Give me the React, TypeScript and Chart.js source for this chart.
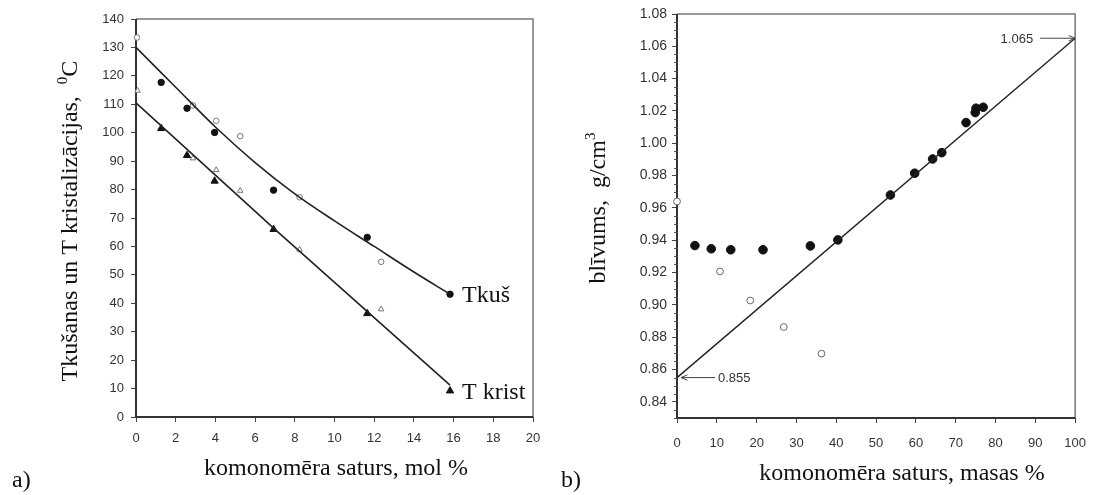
import React, { useEffect, useRef } from "react";
import { Chart, registerables } from "chart.js";
Chart.register(...registerables);

const SERIF = '"Liberation Serif", "Times New Roman", serif';
const SANS = '"Liberation Sans", Arial, sans-serif';

// ---------- Chart a) data ----------
const leftXTicks = [0, 2, 4, 6, 8, 10, 12, 14, 16, 18, 20];
const leftYTicks = [0, 10, 20, 30, 40, 50, 60, 70, 80, 90, 100, 110, 120, 130, 140];

const tmFillX = [1.27, 2.57, 3.96, 6.93, 11.65, 15.82];
const tmFillY = [117.7, 108.6, 100.1, 79.8, 63.2, 43.2];
const tmOpenX = [0.05, 2.87, 4.04, 5.25, 8.24, 12.35];
const tmOpenY = [133.5, 109.6, 104.2, 98.8, 77.3, 54.6];
const tcFillX = [1.27, 2.57, 3.96, 6.93, 11.65, 15.82];
const tcFillY = [101.5, 92.0, 83.0, 66.0, 36.4, 9.2];
const tcOpenX = [0.08, 2.87, 4.04, 5.25, 8.24, 12.35];
const tcOpenY = [114.8, 91.0, 86.9, 79.6, 58.9, 37.9];
const tmFitX = [0, 2, 4, 6, 8, 10, 12, 14, 15.82];
const tmFitY = [130, 116, 102, 89.5, 78.5, 69, 60, 51, 43.2];
const tcFitX = [0, 7, 15.82];
const tcFitY = [110.5, 66, 11.2];
const curveLabels = ["Tkuš", "T krist"];

// ---------- Chart b) data ----------
const rightXTicks = [0, 10, 20, 30, 40, 50, 60, 70, 80, 90, 100];
const rightYTicks = [0.84, 0.86, 0.88, 0.9, 0.92, 0.94, 0.96, 0.98, 1.0, 1.02, 1.04, 1.06, 1.08];
const rhoFillX = [4.5, 8.6, 13.5, 21.6, 33.5, 40.4, 53.6, 59.7, 64.2, 66.5, 72.6, 74.9, 75.1, 76.9];
const rhoFillY = [0.9367, 0.9347, 0.9341, 0.9341, 0.9365, 0.9402, 0.968, 0.9815, 0.9903, 0.9942, 1.0128, 1.019, 1.0217, 1.0223];
const rhoOpenX = [0, 10.8, 18.4, 26.8, 36.3];
const rhoOpenY = [0.964, 0.9207, 0.9027, 0.8863, 0.8698];
const rhoFitX = [0, 100];
const rhoFitY = [0.855, 1.065];
const noteX = [0, 100];
const noteY = [0.855, 1.065];
const noteText = ["0.855", "1.065"];

const pts = (xs: number[], ys: number[]) => xs.map((x, i) => ({ x, y: ys[i] }));

type Part = { t: string; size: number; rise?: number };

function drawParts(ctx: CanvasRenderingContext2D, parts: Part[], x: number, y: number, rotate: boolean, align: "center" | "left" = "center") {
  ctx.save();
  ctx.fillStyle = "#111";
  ctx.textBaseline = "alphabetic";
  ctx.textAlign = "left";
  let total = 0;
  const widths = parts.map((p) => {
    ctx.font = `${p.size}px ${SERIF}`;
    const w = ctx.measureText(p.t).width;
    total += w;
    return w;
  });
  ctx.translate(x, y);
  if (rotate) ctx.rotate(-Math.PI / 2);
  let cur = align === "center" ? -total / 2 : 0;
  parts.forEach((p, i) => {
    ctx.font = `${p.size}px ${SERIF}`;
    ctx.fillText(p.t, cur, -(p.rise || 0));
    cur += widths[i];
  });
  ctx.restore();
}

function drawFrame(chart: any) {
  const { ctx, chartArea: a } = chart;
  ctx.save();
  ctx.strokeStyle = "#777";
  ctx.lineWidth = 1.5;
  ctx.beginPath();
  ctx.moveTo(a.left, a.top);
  ctx.lineTo(a.right, a.top);
  ctx.lineTo(a.right, a.bottom);
  ctx.stroke();
  ctx.strokeStyle = "#333";
  ctx.lineWidth = 2;
  ctx.beginPath();
  ctx.moveTo(a.left, a.top);
  ctx.lineTo(a.left, a.bottom);
  ctx.lineTo(a.right, a.bottom);
  ctx.stroke();
  ctx.restore();
}

function drawArrow(ctx: CanvasRenderingContext2D, x1: number, y1: number, x2: number, y2: number) {
  const ang = Math.atan2(y2 - y1, x2 - x1);
  const h = 7;
  ctx.beginPath();
  ctx.moveTo(x1, y1);
  ctx.lineTo(x2, y2);
  ctx.moveTo(x2 - h * Math.cos(ang - 0.4), y2 - h * Math.sin(ang - 0.4));
  ctx.lineTo(x2, y2);
  ctx.lineTo(x2 - h * Math.cos(ang + 0.4), y2 - h * Math.sin(ang + 0.4));
  ctx.stroke();
}

const tickFont = (size: number) => ({ family: SANS, size });

function axis(min: number, max: number, ticks: number[], opts: any) {
  return {
    type: "linear",
    min,
    max,
    afterBuildTicks: (s: any) => {
      s.ticks = ticks.map((v) => ({ value: v }));
    },
    ticks: {
      font: tickFont(opts.fontSize),
      color: "#333",
      padding: opts.padding,
      maxRotation: 0,
      autoSkip: false,
      callback: opts.fmt,
    },
    grid: { drawOnChartArea: false, tickLength: 5, color: "#444", lineWidth: 1 },
    border: { display: false },
    afterFit: opts.afterFit,
  };
}

const leftPlugin = {
  id: "leftDecor",
  beforeDatasetsDraw(chart: any) {
    drawFrame(chart);
  },
  afterDraw(chart: any) {
    const ctx = chart.ctx;
    const xs = chart.scales.x;
    const ys = chart.scales.y;
    drawParts(ctx, [
      { t: "Tkušanas un T kristalizācijas,  ", size: 24 },
      { t: "0", size: 15, rise: 10 },
      { t: "C", size: 24 },
    ], 77, 221, true);
    drawParts(ctx, [{ t: "komonomēra saturs, mol %", size: 24 }], 336, 475, false);
    drawParts(ctx, [{ t: "a)", size: 24 }], 12, 487, false, "left");
    const lx = [tmFillX[tmFillX.length - 1], tcFillX[tcFillX.length - 1]];
    const ly = [tmFillY[tmFillY.length - 1], tcFillY[tcFillY.length - 1]];
    curveLabels.forEach((t, i) => {
      drawParts(ctx, [{ t, size: 24 }], xs.getPixelForValue(lx[i]) + 12, ys.getPixelForValue(ly[i]) + 8, false, "left");
    });
  },
};

const rightPlugin = {
  id: "rightDecor",
  beforeDatasetsDraw(chart: any) {
    drawFrame(chart);
    const { ctx, chartArea: a } = chart;
    const ys = chart.scales.y;
    ctx.save();
    ctx.strokeStyle = "#555";
    ctx.lineWidth = 1;
    for (let i = 0; i <= 50; i++) {
      if (i % 4 === 2) continue;
      const v = 0.83 + i * 0.005;
      const y = Math.round(ys.getPixelForValue(v)) + 0.5;
      ctx.beginPath();
      ctx.moveTo(a.left - 3, y);
      ctx.lineTo(a.left, y);
      ctx.stroke();
    }
    ctx.restore();
  },
  afterDraw(chart: any) {
    const ctx = chart.ctx;
    const xs = chart.scales.x;
    const ys = chart.scales.y;
    ctx.save();
    ctx.strokeStyle = "#444";
    ctx.lineWidth = 1;
    ctx.fillStyle = "#333";
    ctx.font = `13px ${SANS}`;
    ctx.textBaseline = "middle";
    // left note
    {
      const px = xs.getPixelForValue(noteX[0]);
      const py = ys.getPixelForValue(noteY[0]);
      drawArrow(ctx, px + 38, py, px + 4, py);
      ctx.textAlign = "left";
      ctx.fillText(noteText[0], px + 41, py + 1);
    }
    // right note
    {
      const px = xs.getPixelForValue(noteX[1]);
      const py = ys.getPixelForValue(noteY[1]);
      drawArrow(ctx, px - 35, py, px, py);
      ctx.textAlign = "right";
      ctx.fillText(noteText[1], px - 42, py + 1);
    }
    ctx.restore();
    drawParts(ctx, [
      { t: "blīvums,  g/cm", size: 24 },
      { t: "3", size: 15, rise: 10 },
    ], 55, 208, true);
    drawParts(ctx, [{ t: "komonomēra saturs, masas %", size: 24 }], 352, 480, false);
    drawParts(ctx, [{ t: "b)", size: 24 }], 11, 487, false, "left");
  },
};

function LeftChart() {
  const ref = useRef<HTMLCanvasElement>(null);
  useEffect(() => {
    const chart = new Chart(ref.current as HTMLCanvasElement, {
      type: "scatter",
      data: {
        datasets: [
          { data: pts(tmFitX, tmFitY), showLine: true, pointRadius: 0, borderColor: "#222", borderWidth: 1.6, cubicInterpolationMode: "monotone", clip: false } as any,
          { data: pts(tcFitX, tcFitY), showLine: true, pointRadius: 0, borderColor: "#222", borderWidth: 1.6, tension: 0, clip: false } as any,
          { data: pts(tmOpenX, tmOpenY), pointStyle: "circle", pointRadius: 2.8, backgroundColor: "#fff", borderColor: "#777", borderWidth: 1, clip: false } as any,
          { data: pts(tcOpenX, tcOpenY), pointStyle: "triangle", pointRadius: 3.2, backgroundColor: "#fff", borderColor: "#777", borderWidth: 1, clip: false } as any,
          { data: pts(tmFillX, tmFillY), pointStyle: "circle", pointRadius: 3.2, backgroundColor: "#111", borderColor: "#111", borderWidth: 1, clip: false } as any,
          { data: pts(tcFillX, tcFillY), pointStyle: "triangle", pointRadius: 4.2, backgroundColor: "#111", borderColor: "#111", borderWidth: 1, clip: false } as any,
        ],
      },
      options: {
        responsive: false,
        animation: false,
        devicePixelRatio: 1,
        layout: { padding: { left: 0, right: 17, top: 19, bottom: 0 } },
        plugins: { legend: { display: false }, tooltip: { enabled: false } },
        events: [],
        scales: {
          x: axis(0, 20, leftXTicks, { fontSize: 13, padding: 9, fmt: (v: any) => String(v), afterFit: (s: any) => { s.height = 78; } }),
          y: axis(0, 140, leftYTicks, { fontSize: 13, padding: 7, fmt: (v: any) => String(v), afterFit: (s: any) => { s.width = 136; } }),
        } as any,
      },
      plugins: [leftPlugin],
    } as any);
    return () => chart.destroy();
  }, []);
  return <canvas ref={ref} width={550} height={495} style={{ position: "absolute", left: 0, top: 0, width: 550, height: 495 }} />;
}

function RightChart() {
  const ref = useRef<HTMLCanvasElement>(null);
  useEffect(() => {
    const chart = new Chart(ref.current as HTMLCanvasElement, {
      type: "scatter",
      data: {
        datasets: [
          { data: pts(rhoFitX, rhoFitY), showLine: true, pointRadius: 0, borderColor: "#222", borderWidth: 1.4, clip: false } as any,
          { data: pts(rhoOpenX, rhoOpenY), pointStyle: "circle", pointRadius: 3.4, backgroundColor: "#fff", borderColor: "#666", borderWidth: 1, clip: false } as any,
          { data: pts(rhoFillX, rhoFillY), pointStyle: "circle", pointRadius: 4.3, backgroundColor: "#111", borderColor: "#111", borderWidth: 1, clip: false } as any,
        ],
      },
      options: {
        responsive: false,
        animation: false,
        devicePixelRatio: 1,
        layout: { padding: { left: 0, right: 14, top: 14, bottom: 0 } },
        plugins: { legend: { display: false }, tooltip: { enabled: false } },
        events: [],
        scales: {
          x: axis(0, 100, rightXTicks, { fontSize: 13, padding: 13, fmt: (v: any) => String(v), afterFit: (s: any) => { s.height = 77; } }),
          y: axis(0.83, 1.08, rightYTicks, { fontSize: 14, padding: 5, fmt: (v: any) => Number(v).toFixed(2), afterFit: (s: any) => { s.width = 127; } }),
        } as any,
      },
      plugins: [rightPlugin],
    } as any);
    return () => chart.destroy();
  }, []);
  return <canvas ref={ref} width={549} height={495} style={{ position: "absolute", left: 550, top: 0, width: 549, height: 495 }} />;
}

export default function App() {
  return (
    <div style={{ position: "absolute", left: 0, top: 0, width: 1099, height: 495, background: "#fff", overflow: "hidden" }}>
      <LeftChart />
      <RightChart />
    </div>
  );
}
